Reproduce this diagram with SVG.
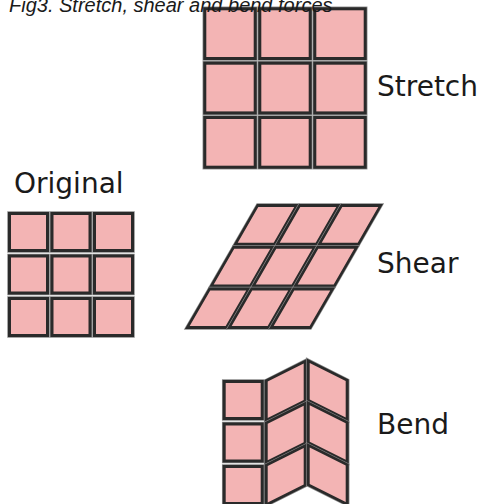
<svg xmlns="http://www.w3.org/2000/svg" width="485" height="504" viewBox="0 0 485 504">
<defs>
<style>
.cell{fill:#f3b4b4;stroke:#2a2a2a;stroke-width:3;stroke-linejoin:miter}
.halo{fill:none;stroke:#8a8a8a;stroke-width:4.5}
.lbl{font-family:"DejaVu Sans",sans-serif;font-size:28px;fill:#1a1a1a}
.title{font-family:"Liberation Sans",Arial,sans-serif;font-size:20px;font-style:italic;fill:#1a1a1a}
</style>
<g id="sq42">
<rect class="halo" x="1.5" y="1.5" width="38" height="37"/>
<rect class="cell" x="1.5" y="1.5" width="38" height="37"/>
</g>
<g id="sqS">
<rect class="halo" x="1.5" y="1.5" width="50.4" height="49.7"/>
<rect class="cell" x="1.5" y="1.5" width="50.4" height="49.7"/>
</g>
<g id="sqH">
<rect class="halo" x="1.5" y="1.5" width="39" height="38.7"/>
<rect class="cell" x="1.5" y="1.5" width="39" height="38.7"/>
</g>
<g id="sqB">
<rect class="halo" x="1.5" y="1.5" width="39" height="39.5"/>
<rect class="cell" x="1.5" y="1.5" width="39" height="39.5"/>
</g>
</defs>
<rect width="485" height="504" fill="#ffffff"/>

<g id="stretch">
<use href="#sqS" x="203.3" y="7.3"/>
<use href="#sqS" x="258.3" y="7.3"/>
<use href="#sqS" x="313.3" y="7.3"/>
<use href="#sqS" x="203.3" y="61.7"/>
<use href="#sqS" x="258.3" y="61.7"/>
<use href="#sqS" x="313.3" y="61.7"/>
<use href="#sqS" x="203.3" y="116"/>
<use href="#sqS" x="258.3" y="116"/>
<use href="#sqS" x="313.3" y="116"/>
<text class="lbl" x="377" y="96">Stretch</text>
</g>

<g id="original">
<text class="lbl" x="14" y="193">Original</text>
<use href="#sq42" x="8" y="212"/>
<use href="#sq42" x="50.5" y="212"/>
<use href="#sq42" x="93" y="212"/>
<use href="#sq42" x="8" y="254.5"/>
<use href="#sq42" x="50.5" y="254.5"/>
<use href="#sq42" x="93" y="254.5"/>
<use href="#sq42" x="8" y="297"/>
<use href="#sq42" x="50.5" y="297"/>
<use href="#sq42" x="93" y="297"/>
</g>

<g id="shear">
<g transform="translate(257,204) skewX(-29.94)">
<use href="#sqH" x="0" y="0"/>
<use href="#sqH" x="42" y="0"/>
<use href="#sqH" x="84" y="0"/>
<use href="#sqH" x="0" y="41.7"/>
<use href="#sqH" x="42" y="41.7"/>
<use href="#sqH" x="84" y="41.7"/>
<use href="#sqH" x="0" y="83.4"/>
<use href="#sqH" x="42" y="83.4"/>
<use href="#sqH" x="84" y="83.4"/>
</g>
<text class="lbl" x="377" y="273">Shear</text>
</g>

<g id="bend">
<use href="#sq42" x="222.7" y="380"/>
<use href="#sq42" x="222.7" y="422.5"/>
<use href="#sq42" x="222.7" y="465"/>
<g transform="translate(264.7,380) skewY(-26.57)">
<use href="#sqB" x="0" y="0"/>
<use href="#sqB" x="0" y="42.3"/>
<use href="#sqB" x="0" y="84.6"/>
</g>
<g transform="translate(306.7,358.5) skewY(26.57)">
<use href="#sqB" x="0" y="0"/>
<use href="#sqB" x="0" y="42.3"/>
<use href="#sqB" x="0" y="84.6"/>
</g>
<text class="lbl" x="377" y="434">Bend</text>
</g>

<text id="title" class="title" x="9" y="12">Fig3. Stretch, shear and bend forces</text>
</svg>
